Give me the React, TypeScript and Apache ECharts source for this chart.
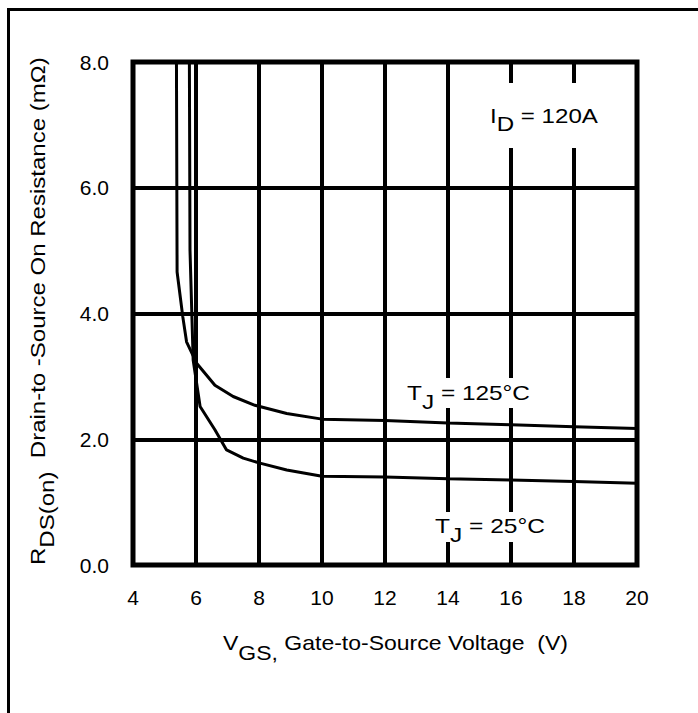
import React, { useEffect, useRef } from "react";
import * as echarts from "echarts";

// ---- data ----
const xMin = 4;
const xMax = 20;
const xStep = 2;
const yMin = 0;
const yMax = 8;
const yStep = 2;

// TJ = 125°C
const vgs125 = [5.37, 5.4, 5.58, 5.7, 6.02, 6.6, 7.18, 7.87, 8.88, 10, 12, 14, 16, 18, 20];
const rds125 = [9.5, 4.66, 3.95, 3.55, 3.21, 2.86, 2.68, 2.54, 2.41, 2.32, 2.3, 2.26, 2.23, 2.2, 2.17];

// TJ = 25°C
const vgs25 = [5.78, 5.81, 5.91, 6.13, 6.6, 6.97, 7.5, 8.03, 8.88, 10, 12, 14, 16, 18, 20];
const rds25 = [9.5, 5.0, 3.26, 2.52, 2.15, 1.83, 1.7, 1.62, 1.51, 1.41, 1.4, 1.37, 1.35, 1.33, 1.3];

const FONT_FAMILY = '"Liberation Sans", Arial, Helvetica, sans-serif';
const FS = 21;

type Run = { t: string; sub?: boolean };

let measureCtx: CanvasRenderingContext2D | null = null;
function measure(t: string): number {
  if (!measureCtx) {
    measureCtx = document.createElement("canvas").getContext("2d");
  }
  if (!measureCtx) return t.length * FS * 0.55;
  measureCtx.font = `${FS}px ${FONT_FAMILY}`;
  return measureCtx.measureText(t).width;
}

function richLabel(runs: Run[], x: number, y: number, target: number, rotation = 0, subOff = 9) {
  let cum = 0;
  const children: any[] = [];
  for (const r of runs) {
    const w = measure(r.t);
    children.push({
      type: "text",
      x: cum,
      y: r.sub ? subOff : 0,
      z: 100,
      style: {
        text: r.t,
        fontSize: FS,
        fontFamily: FONT_FAMILY,
        fill: "#000",
        align: "left",
        verticalAlign: "middle",
      },
    });
    cum += w;
  }
  return {
    type: "group",
    x,
    y,
    rotation,
    scaleX: target / cum,
    scaleY: 1,
    z: 100,
    children,
  };
}

function whiteBox(x: number, y: number, w: number, h: number) {
  return {
    type: "rect",
    shape: { x, y, width: w, height: h },
    style: { fill: "#fff" },
    z: 90,
  };
}

export default function App() {
  const ref = useRef<HTMLDivElement>(null);

  useEffect(() => {
    if (!ref.current) return;
    const chart = echarts.init(ref.current, undefined, { renderer: "svg" });

    const d125 = vgs125.map((v, i) => [v, rds125[i]]);
    const d25 = vgs25.map((v, i) => [v, rds25[i]]);

    const option: any = {
      animation: false,
      backgroundColor: "#fff",
      grid: {
        left: 133,
        top: 62,
        right: 61,
        bottom: 148,
        show: true,
        borderColor: "#000",
        borderWidth: 5,
        backgroundColor: "transparent",
      },
      xAxis: {
        type: "value",
        min: xMin,
        max: xMax,
        interval: xStep,
        axisLine: { show: false },
        axisTick: { show: false },
        splitLine: { show: true, lineStyle: { color: "#000", width: 4 } },
        axisLabel: { color: "#000", fontSize: FS, fontFamily: FONT_FAMILY, margin: 22 },
      },
      yAxis: {
        type: "value",
        min: yMin,
        max: yMax,
        interval: yStep,
        axisLine: { show: false },
        axisTick: { show: false },
        splitLine: { show: true, lineStyle: { color: "#000", width: 4 } },
        axisLabel: {
          color: "#000",
          fontSize: FS,
          fontFamily: FONT_FAMILY,
          margin: 24,
          formatter: (v: number) => v.toFixed(1),
        },
      },
      series: [
        {
          name: "TJ = 125°C",
          type: "line",
          data: d125,
          showSymbol: false,
          clip: true,
          z: 3,
          lineStyle: { color: "#000", width: 3 },
        },
        {
          name: "TJ = 25°C",
          type: "line",
          data: d25,
          showSymbol: false,
          clip: true,
          z: 3,
          lineStyle: { color: "#000", width: 3 },
        },
      ],
      graphic: [
        {
          type: "rect",
          shape: { x: 8.5, y: 9.5, width: 900, height: 900 },
          style: { fill: "transparent", stroke: "#000", lineWidth: 3 },
          z: 1,
        },
        whiteBox(478, 83, 128, 65),
        whiteBox(398, 378, 140, 30),
        whiteBox(428, 512, 124, 30),
        richLabel([{ t: "I" }, { t: "D", sub: true }, { t: " = 120A" }], 490, 116, 108, 0, 8),
        richLabel([{ t: "T" }, { t: "J", sub: true }, { t: " = 125°C" }], 407, 392.5, 123, 0, 9),
        richLabel([{ t: "T" }, { t: "J", sub: true }, { t: " = 25°C" }], 435, 525.5, 110, 0, 9),
        richLabel(
          [{ t: "V" }, { t: "GS,", sub: true }, { t: " Gate-to-Source Voltage  (V)" }],
          223,
          643,
          345,
          0,
          10
        ),
        richLabel(
          [{ t: "R" }, { t: "DS(on)", sub: true }, { t: "  Drain-to -Source On Resistance (mΩ)" }],
          38,
          565,
          508,
          Math.PI / 2,
          9
        ),
      ],
    };

    chart.setOption(option);
    return () => {
      chart.dispose();
    };
  }, []);

  return (
    <div
      ref={ref}
      style={{ position: "fixed", left: 0, top: 0, width: 698, height: 713, background: "#fff" }}
    />
  );
}
